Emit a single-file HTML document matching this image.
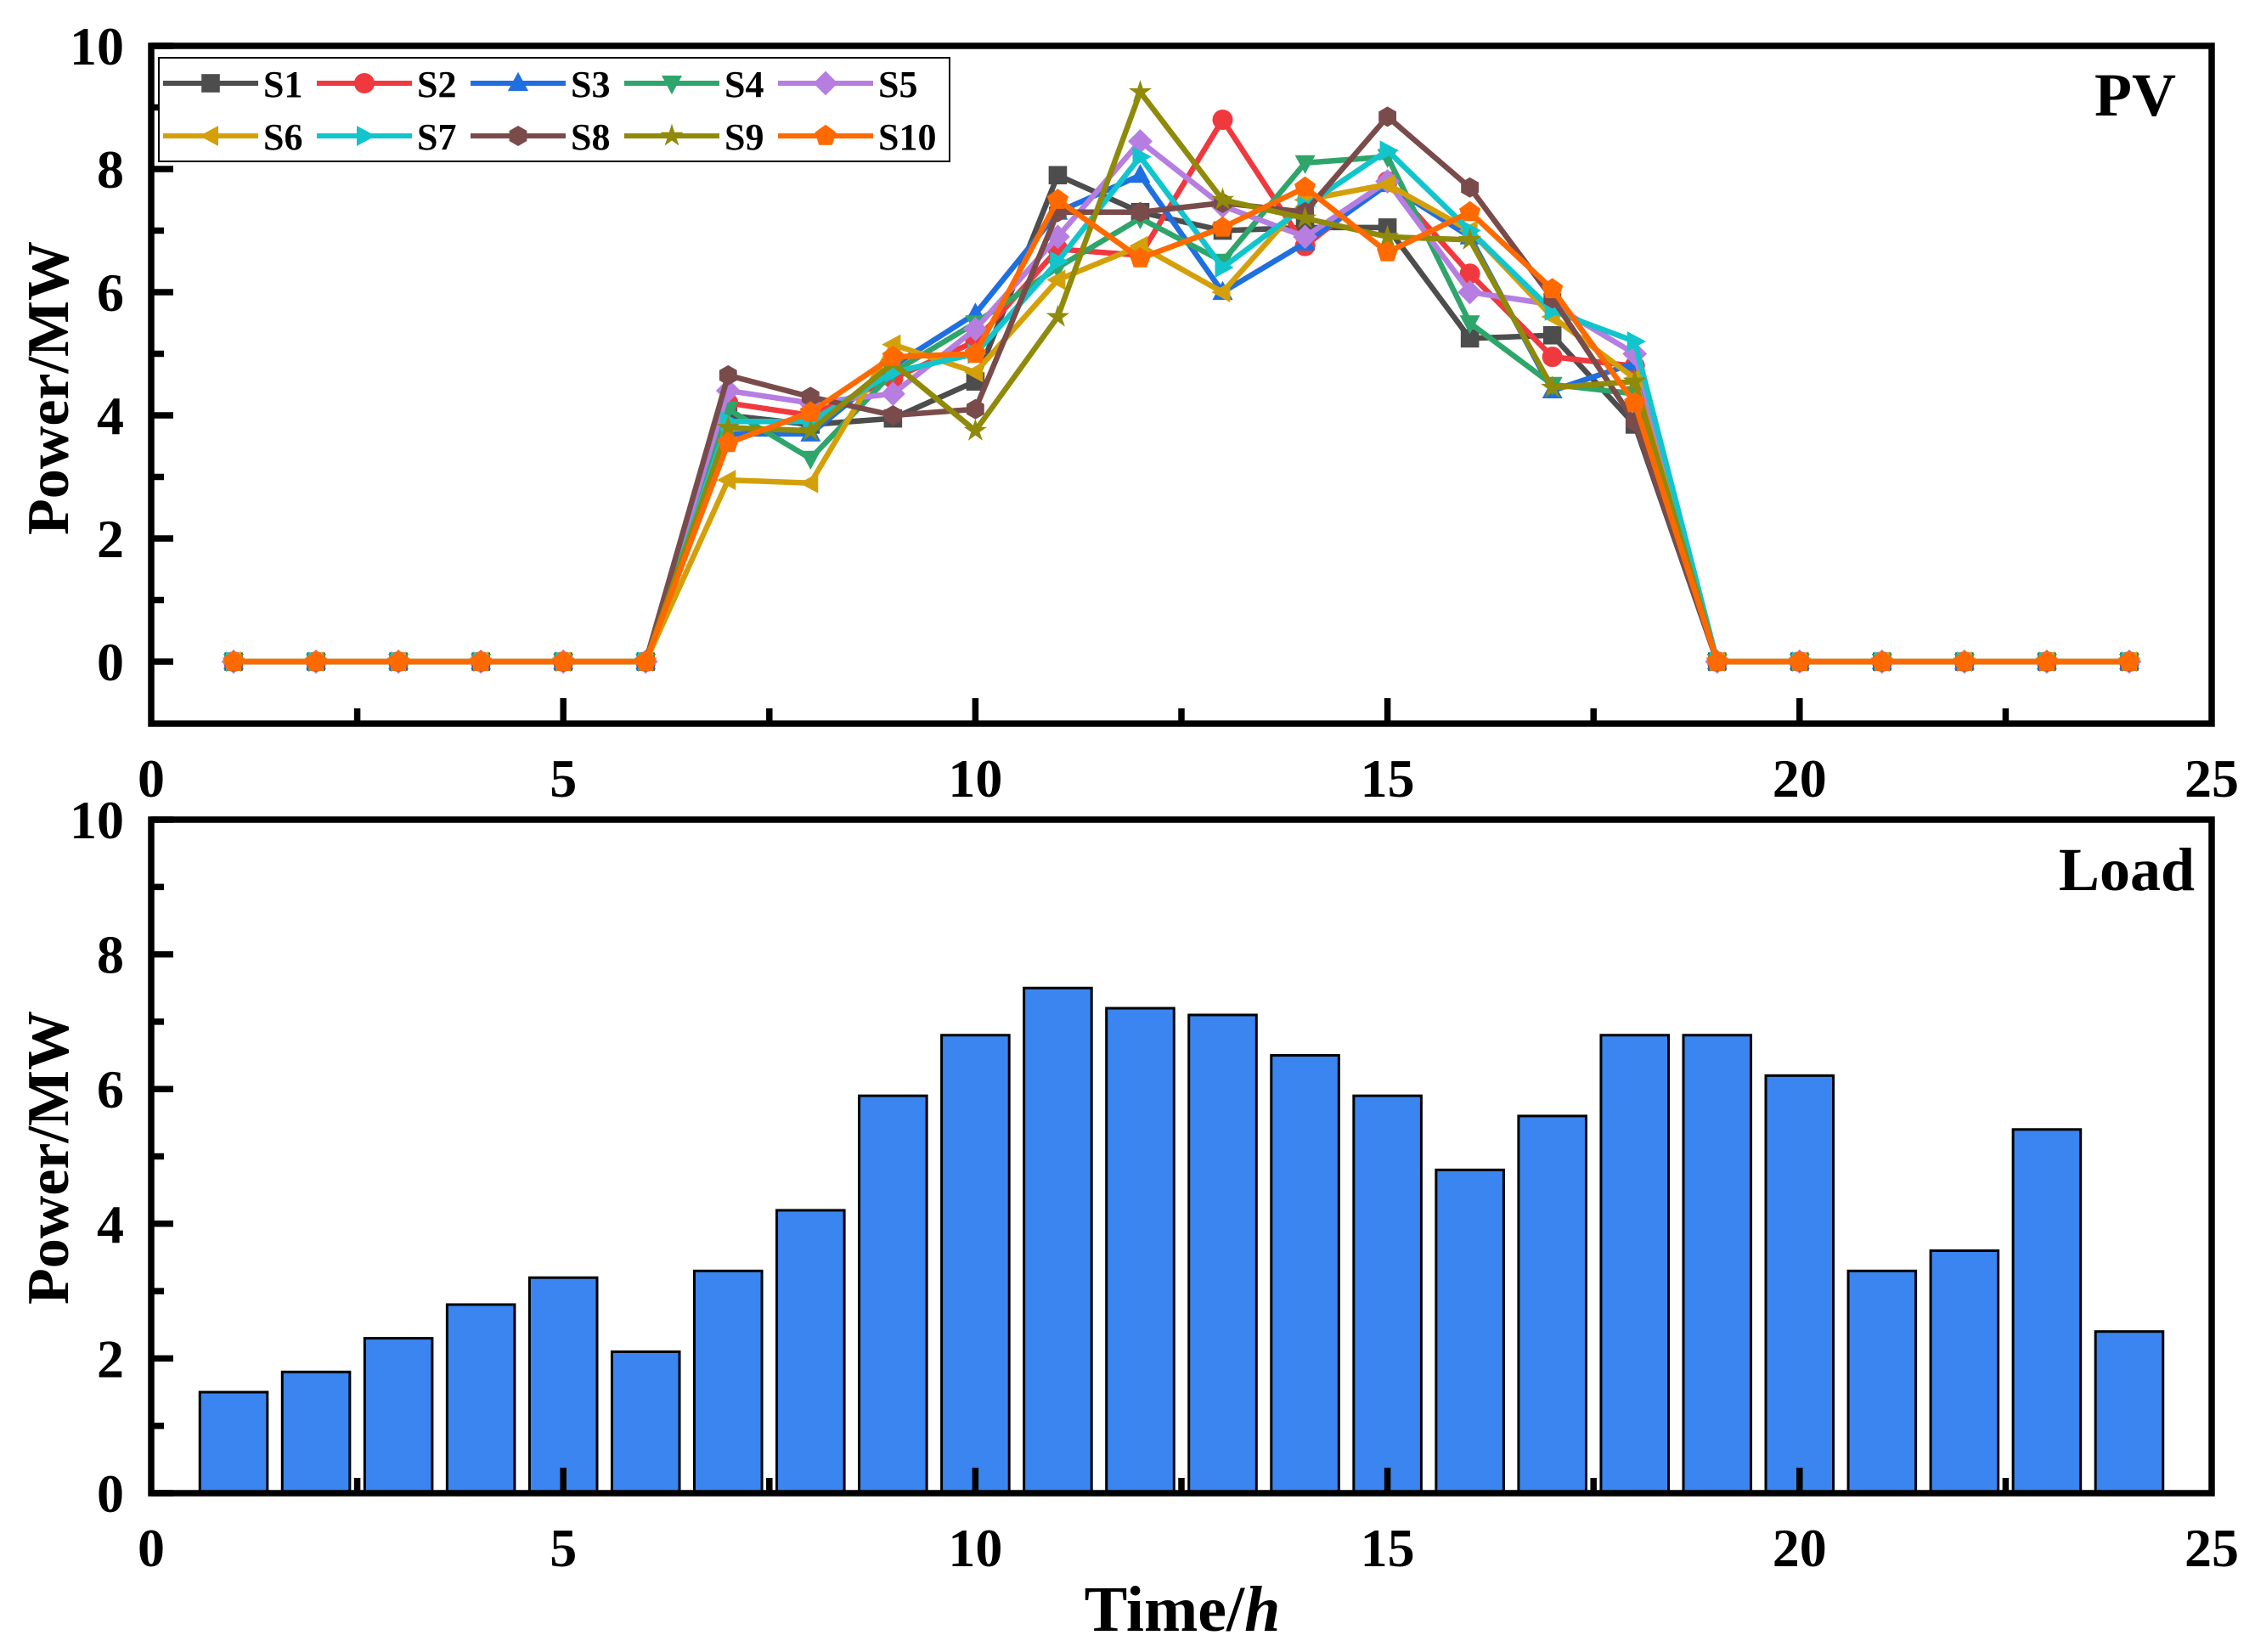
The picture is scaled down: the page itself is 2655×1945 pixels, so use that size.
<!DOCTYPE html>
<html><head><meta charset="utf-8"><style>
html,body{margin:0;padding:0;background:#fff}
svg{display:block}
text{font-family:"Liberation Serif",serif;font-weight:bold;fill:#000}
</style></head><body>
<svg id="chart" width="2655" height="1945" viewBox="0 0 2655 1945" xmlns="http://www.w3.org/2000/svg">
<g id="pv"></g>
<g id="load"></g>
</svg>
<script>
const hours=[1,2,3,4,5,6,7,8,9,10,11,12,13,14,15,16,17,18,19,20,21,22,23,24];
const seriesNames=["S1","S2","S3","S4","S5","S6","S7","S8","S9","S10"];
const s1=[0,0,0,0,0,0,4.0,3.85,3.95,4.55,7.9,7.3,7.0,7.05,7.05,5.25,5.3,3.85,0,0,0,0,0,0];
const s2=[0,0,0,0,0,0,4.2,4.0,4.6,5.2,6.7,6.6,8.8,6.75,7.8,6.3,4.95,4.8,0,0,0,0,0,0];
const s3=[0,0,0,0,0,0,3.7,3.7,4.8,5.65,7.3,7.9,6.0,6.8,7.75,6.9,4.4,4.85,0,0,0,0,0,0];
const s4=[0,0,0,0,0,0,4.1,3.3,4.7,5.5,6.4,7.2,6.5,8.1,8.2,5.5,4.5,4.35,0,0,0,0,0,0];
const s5=[0,0,0,0,0,0,4.4,4.2,4.35,5.4,6.9,8.45,7.4,6.9,7.8,6.0,5.8,5.0,0,0,0,0,0,0];
const s6=[0,0,0,0,0,0,2.95,2.9,5.15,4.7,6.2,6.75,6.0,7.5,7.75,7.0,5.6,4.6,0,0,0,0,0,0];
const s7=[0,0,0,0,0,0,3.9,3.9,4.7,5.0,6.5,8.2,6.4,7.4,8.3,7.0,5.7,5.2,0,0,0,0,0,0];
const s8=[0,0,0,0,0,0,4.65,4.3,4.0,4.1,7.3,7.3,7.45,7.3,8.85,7.7,5.9,3.9,0,0,0,0,0,0];
const s9=[0,0,0,0,0,0,3.8,3.75,4.85,3.75,5.6,9.25,7.5,7.2,6.9,6.85,4.45,4.55,0,0,0,0,0,0];
const s10=[0,0,0,0,0,0,3.55,4.05,4.95,5.0,7.5,6.55,7.05,7.7,6.65,7.3,6.05,4.2,0,0,0,0,0,0];
const loadValues=[1.5,1.8,2.3,2.8,3.2,2.1,3.3,4.2,5.9,6.8,7.5,7.2,7.1,6.5,5.9,4.8,5.6,6.8,6.8,6.2,3.3,3.6,5.4,2.4];
const xTicks=[0,5,10,15,20,25];
const yTicks=[0,2,4,6,8,10];

const NS="http://www.w3.org/2000/svg";
function mk(parent,tag,attrs){const e=document.createElementNS(NS,tag);for(const k in attrs)e.setAttribute(k,attrs[k]);parent.appendChild(e);return e;}
const X0=178,X1=2604;
const xs=v=>X0+(X1-X0)*v/25;
const ysTop=v=>779-(779-54)*v/10;
const ysBot=v=>1758-(1758-965)*v/10;
const colors=["#4d4d4d","#f0393e","#1f6fe0","#2ea56a","#b57ee0","#d4a00a","#12c5cc","#7a4b4b","#8f8a0a","#ff6a00"];
const shapes=["square","circle","up","down","diamond","left","right","hex","star","pent"];
const allSeries=[s1,s2,s3,s4,s5,s6,s7,s8,s9,s10];

function marker(g,shape,cx,cy,r,color){
  let e;
  const poly=pts=>mk(g,"polygon",{points:pts.map(p=>(cx+p[0]*r).toFixed(1)+","+(cy+p[1]*r).toFixed(1)).join(" "),fill:color});
  if(shape==="square") e=mk(g,"rect",{x:cx-r*0.9,y:cy-r*0.9,width:r*1.8,height:r*1.8,fill:color});
  else if(shape==="circle") e=mk(g,"circle",{cx:cx,cy:cy,r:r,fill:color});
  else if(shape==="up") e=poly([[0,-1.1],[1,0.75],[-1,0.75]]);
  else if(shape==="down") e=poly([[0,1.1],[1,-0.75],[-1,-0.75]]);
  else if(shape==="left") e=poly([[-1.1,0],[0.75,-1],[0.75,1]]);
  else if(shape==="right") e=poly([[1.1,0],[-0.75,-1],[-0.75,1]]);
  else if(shape==="diamond") e=poly([[0,-1.2],[1.2,0],[0,1.2],[-1.2,0]]);
  else if(shape==="hex"){const p=[];for(let i=0;i<6;i++){const a=Math.PI/6+i*Math.PI/3;p.push([Math.cos(a),Math.sin(a)]);}e=poly(p);}
  else if(shape==="pent"){const p=[];for(let i=0;i<5;i++){const a=-Math.PI/2+i*2*Math.PI/5;p.push([Math.cos(a)*1.1,Math.sin(a)*1.1]);}e=poly(p);}
  else if(shape==="star"){const p=[];for(let i=0;i<10;i++){const a=-Math.PI/2+i*Math.PI/5;const rr=i%2?0.45:1.2;p.push([Math.cos(a)*rr,Math.sin(a)*rr]);}e=poly(p);}
  return e;
}

function axes(g,ys,ymin,yTop,yBottom,prefix){
  const fr=mk(g,"rect",{x:X0,y:yTop,width:X1-X0,height:yBottom-yTop,fill:"none",stroke:"#000","stroke-width":7.5});
  
  
  for(let v=0;v<=10;v++){
    const y=ys(v); const L=(v%2===0)?26:15;
    mk(g,"line",{x1:X0,y1:y,x2:X0+L,y2:y,stroke:"#000","stroke-width":7.5});
  }
  yTicks.forEach(v=>{
    const t=mk(g,"text",{x:146,y:ys(v)+22,"font-size":64,"text-anchor":"end"});
    t.textContent=v;
    
    
  });
  for(let v=2.5;v<25;v+=2.5){
    const x=xs(v); const L=(Math.abs(v%5)<0.01)?30:18;
    mk(g,"line",{x1:x,y1:yBottom,x2:x,y2:yBottom-L,stroke:"#000","stroke-width":7.5});
  }
  xTicks.forEach(v=>{
    const t=mk(g,"text",{x:xs(v),y:yBottom+86,"font-size":64,"text-anchor":"middle"});
    t.textContent=v;
    
    
  });
}

const pv=document.getElementById("pv");
allSeries.forEach((s,i)=>{
  const g=mk(pv,"g",{});
  
  
  const pts=hours.map((h,k)=>xs(h).toFixed(1)+","+ysTop(s[k]).toFixed(1)).join(" ");
  const pl=mk(g,"polyline",{points:pts,fill:"none",stroke:colors[i],"stroke-width":6.5,"stroke-linejoin":"round"});
  
  
  hours.forEach((h,k)=>{
    const m=marker(g,shapes[i],xs(h),ysTop(s[k]),12,colors[i]);
    
    
  });
});
axes(pv,ysTop,-1,54,852,"pv");
(function(){
  const t=mk(pv,"text",{transform:"translate(80,457) rotate(-90)","font-size":70,"text-anchor":"middle"});
  t.textContent="Power/MW";
  
  
  const p=mk(pv,"text",{x:2562,y:136,"font-size":72,"text-anchor":"end"});
  p.textContent="PV";
  
  
  const lg=mk(pv,"g",{});
  
  
  mk(lg,"rect",{x:187,y:68,width:931,height:122,fill:"#fff",stroke:"#000","stroke-width":2});
  seriesNames.forEach((n,i)=>{
    const col=i%5,row=Math.floor(i/5);
    const x=192+col*181,y=98+row*62;
    const e=mk(lg,"g",{});
    
    
    mk(e,"line",{x1:x,y1:y,x2:x+112,y2:y,stroke:colors[i],"stroke-width":6});
    marker(e,shapes[i],x+56,y,12,colors[i]);
    const t=mk(e,"text",{x:x+118,y:y+16,"font-size":44});
    t.textContent=n;
  });
})();

const ld=document.getElementById("load");
loadValues.forEach((v,k)=>{
  const h=hours[k];
  const r=mk(ld,"rect",{x:xs(h-0.41),y:ysBot(v),width:xs(0.82)-xs(0),height:ysBot(0)-ysBot(v),fill:"#3a85f0",stroke:"#000","stroke-width":3});
  
  
});
axes(ld,ysBot,0,965,1758,"load");
(function(){
  const t=mk(ld,"text",{transform:"translate(80,1363) rotate(-90)","font-size":70,"text-anchor":"middle"});
  t.textContent="Power/MW";
  
  
  const p=mk(ld,"text",{x:2584,y:1048,"font-size":72,"text-anchor":"end"});
  p.textContent="Load";
  
  
  const xt=mk(ld,"text",{x:1392,y:1920,"font-size":76,"text-anchor":"middle"});
  xt.innerHTML='Time/<tspan font-style="italic">h</tspan>';
  
  
})();
</script>
</body></html>
